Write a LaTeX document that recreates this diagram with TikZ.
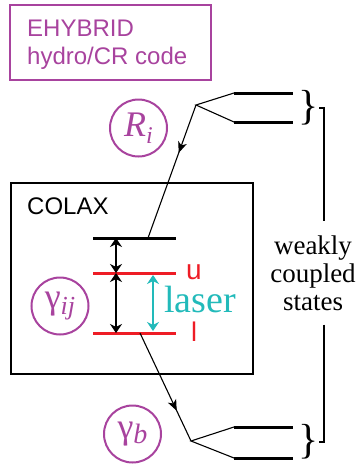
\documentclass[tikz,border=0pt]{standalone}
\usepackage{fontspec}
\setmainfont{Liberation Serif}
\setsansfont{Liberation Sans}
\usepackage{xcolor}
\definecolor{Plum}{HTML}{A8439E}
\definecolor{LevelRed}{HTML}{EE1C25}
\definecolor{Teal}{HTML}{22BABA}
\usetikzlibrary{arrows.meta,decorations.markings,positioning}

\begin{document}
\begin{tikzpicture}[x=1pt,y=-1pt,font=\sffamily,frame/.style={inner sep=0pt,line width=2.4pt},level/.style={line width=3pt},link/.style={line width=1.1pt},gap/.style={{Stealth[length=9pt,width=12pt,inset=3pt]}-{Stealth[length=9pt,width=12pt,inset=3pt]}, line width=1.1pt},rate/.style={circle,draw=Plum,line width=2pt,minimum size=57pt,inner sep=0pt,text=Plum,font=\rmfamily\fontsize{36}{36}\selectfont},tag/.style={anchor=base west,inner sep=0pt,font=\sffamily\fontsize{24}{24}\selectfont},midarrow/.style={postaction={decorate},decoration={markings,mark=at position #1 with {\arrow{Stealth[length=11pt,width=9pt,inset=3pt]}}}},bracket/.style={anchor=east,inner sep=0pt,font=\rmfamily\fontsize{42}{42}\selectfont}]
\useasboundingbox (0,0) rectangle (364,466);
\node (ehybrid) [frame, draw=Plum, line width=2pt, minimum width=201pt, minimum height=75pt] at (110.5,42.5) {};
\node (ehybridA) [tag, text=Plum] at (27,36) {EHYBRID};
\node (ehybridB) [tag, text=Plum] at (27,64) {hydro/CR code};
\node (colax) [frame, draw=black, minimum width=242pt, minimum height=191pt] at (132,278.5) {};
\node (colaxA) [tag] at (27,214) {COLAX};
\foreach \n/\y/\c in {top/238/black,up/273/LevelRed,low/333/LevelRed} {\coordinate (\n L) at (93,\y); \coordinate (\n R) at (176,\y); \draw[level,\c] (\n L) -- (\n R);}
\foreach \n/\y in {ua/93,ub/122,la/427,lb/458} {\coordinate (\n L) at (234,\y); \coordinate (\n R) at (293,\y); \draw[level] (\n L) -- (\n R);}
\draw[gap] (topL -| 116,0) -- (upL -| 116,0);
\draw[gap] (upL -| 116,0) -- (lowL -| 116,0);
\draw[gap, Teal, line width=1.2pt] (153,275) -- (153,331);
\node (ulabel) [tag, text=LevelRed, font=\sffamily\fontsize{28}{28}\selectfont] at (186,279) {u};
\node (llabel) [tag, text=LevelRed, font=\sffamily\fontsize{27}{27}\selectfont] at (191,341) {l};
\node (laser) [tag, text=Teal, font=\rmfamily\fontsize{38}{38}\selectfont] at (164,312) {laser};
\node (Ri) [rate] at (138.5,128) {\textit{R}\raisebox{-7pt}{\fontsize{24}{24}\selectfont\textit{i}}};
\node (gij) [rate] at (60,306) {γ\raisebox{-6pt}{\fontsize{26}{26}\selectfont\textit{ij}}};
\node (gb) [rate] at (132.5,434) {γ\raisebox{-5pt}{\fontsize{28}{28}\selectfont\textit{b}}};
\coordinate (ubranch) at (196,105);
\coordinate (lbranch) at (191,441);
\coordinate (topin) at (148,238);
\coordinate (lowout) at (140,333);
\draw[link] (uaL) -- (ubranch) -- (ubL);
\draw[link] (laL) -- (lbranch) -- (lbL);
\draw[link, midarrow=0.36] (ubranch) -- (topin);
\draw[link, midarrow=0.72] (lowout) -- (lbranch);
\node (wcs) [font=\rmfamily\fontsize{27}{28}\selectfont, align=center, inner xsep=0pt, inner ysep=14pt] at (313,273) {weakly\\coupled\\states};
\node (ubrace) [bracket] at (319,108) {\}};
\node (lbrace) [bracket] at (319,442) {\}};
\coordinate (ucorner) at (324,108);
\coordinate (lcorner) at (324,442);
\draw[link] (ubrace.east) -- (ucorner) -- (ucorner |- wcs.north);
\draw[link] (wcs.south -| lcorner) -- (lcorner) -- (lbrace.east);
\end{tikzpicture}
\end{document}
